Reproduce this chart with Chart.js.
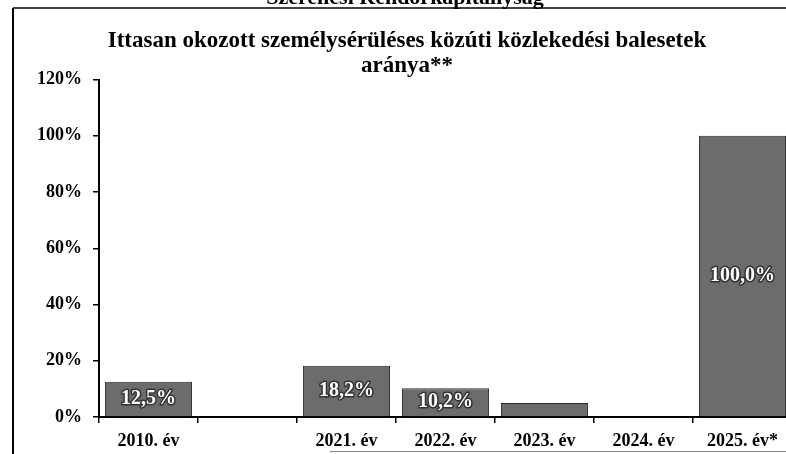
<!DOCTYPE html>
<html>
<head>
<meta charset="utf-8">
<script src="https://cdn.jsdelivr.net/npm/chart.js@4/dist/chart.umd.min.js"></script>
<style>
	html, body { margin: 0; padding: 0; background: #fff; overflow: hidden; }
	#wrap { position: relative; width: 792px; height: 454px; }
</style>
</head>
<body>
<div id="wrap"><canvas id="chart" width="792" height="454"></canvas></div>
<script>
const years = ['2010. év', '', '2021. év', '2022. év', '2023. év', '2024. év', '2025. év*'];
const rates = [12.5, 0.3, 18.2, 10.2, 5.0, 0.3, 100.0];
const barLabels = ['12,5%', '', '18,2%', '10,2%', '', '', '100,0%'];
const yTicks = [0, 20, 40, 60, 80, 100, 120];

const serif = 'Liberation Serif, Times New Roman, serif';

// felső fejléc + keret (a beszkennelt lapból maradt)
const framePlugin = {
	id: 'frame',
	beforeDraw(chart) {
		const ctx = chart.ctx;
		ctx.save();
		ctx.fillStyle = '#000';
		ctx.font = 'bold 22px ' + serif;
		ctx.textAlign = 'center';
		ctx.textBaseline = 'alphabetic';
		ctx.fillText('Szerencsi Rendőrkapitányság', 405, 4);
		ctx.strokeStyle = '#000';
		ctx.lineWidth = 1.5;
		ctx.beginPath();
		ctx.moveTo(13, 8);
		ctx.lineTo(792, 8);
		ctx.stroke();
		ctx.lineWidth = 2;
		ctx.beginPath();
		ctx.moveTo(13, 8);
		ctx.lineTo(13, 454);
		ctx.stroke();
		ctx.strokeStyle = '#888';
		ctx.lineWidth = 1;
		ctx.beginPath();
		ctx.moveTo(330, 451.5);
		ctx.lineTo(792, 451.5);
		ctx.stroke();
		ctx.restore();
	},
};

// értékfeliratok az oszlopokon belül
const barLabelPlugin = {
	id: 'barLabels',
	afterDatasetsDraw(chart) {
		const ctx = chart.ctx;
		const meta = chart.getDatasetMeta(0);
		ctx.save();
		ctx.font = 'bold 20px ' + serif;
		ctx.textAlign = 'center';
		ctx.textBaseline = 'middle';
		ctx.lineJoin = 'round';
		meta.data.forEach((bar, i) => {
			const txt = barLabels[i];
			if (!txt) return;
			const y = (bar.y + bar.base) / 2;
			ctx.strokeStyle = '#333';
			ctx.lineWidth = 3;
			ctx.strokeText(txt, bar.x, y);
			ctx.fillStyle = '#fff';
			ctx.fillText(txt, bar.x, y);
		});
		ctx.restore();
	},
};

new Chart(document.getElementById('chart'), {
	type: 'bar',
	data: {
		labels: years,
		datasets: [
			{
				data: rates,
				backgroundColor: '#6c6c6c',
				borderColor: '#2a2a2a',
				borderWidth: 1,
				categoryPercentage: 1,
				barPercentage: 0.88,
			},
		],
	},
	options: {
		responsive: false,
		animation: false,
		layout: { padding: { left: 22, right: 0, top: 0, bottom: 0 } },
		plugins: {
			legend: { display: false },
			tooltip: { enabled: false },
			title: {
				display: true,
				text: ['Ittasan okozott személysérüléses közúti közlekedési balesetek', 'aránya**'],
				color: '#000',
				font: { family: serif, size: 23, weight: 'bold', lineHeight: 1.1 },
				padding: { top: 28, bottom: 1 },
			},
		},
		scales: {
			x: {
				grid: {
					drawOnChartArea: false,
					tickLength: 6,
					color: '#000',
					lineWidth: 1.5,
				},
				border: { display: true, color: '#000', width: 2 },
				ticks: {
					color: '#000',
					font: { family: serif, size: 18, weight: 'bold' },
					padding: 8,
					maxRotation: 0,
					autoSkip: false,
				},
				afterFit(scale) {
					scale.height = 37;
				},
			},
			y: {
				min: 0,
				max: 120,
				afterBuildTicks(scale) {
					scale.ticks = yTicks.map((v) => ({ value: v }));
				},
				grid: {
					drawOnChartArea: false,
					tickLength: 6,
					color: '#000',
					lineWidth: 1.5,
				},
				border: { display: true, color: '#000', width: 2 },
				ticks: {
					color: '#000',
					font: { family: serif, size: 18, weight: 'bold' },
					padding: 11,
					callback: (v) => v + '%',
				},
				afterFit(scale) {
					scale.width = 77;
				},
			},
		},
	},
	plugins: [framePlugin, barLabelPlugin],
});
</script>
</body>
</html>
